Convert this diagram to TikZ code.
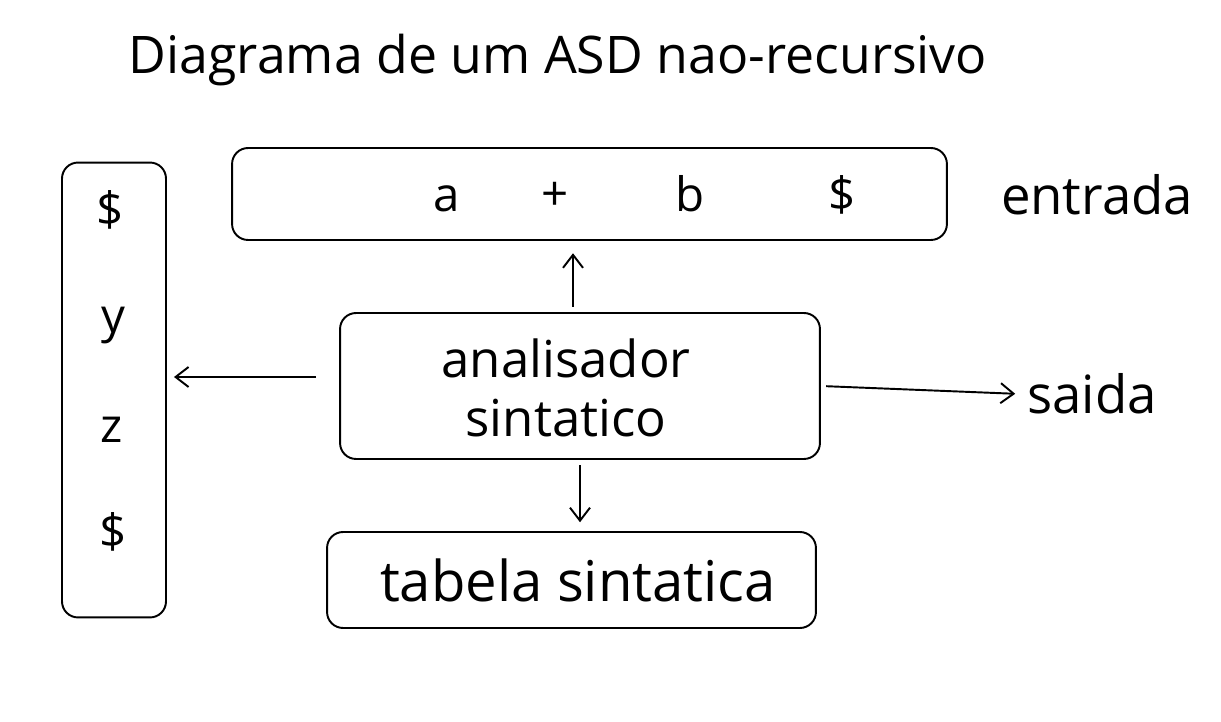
\documentclass[tikz,border=0pt]{standalone}
\usepackage{fontspec}
\setmainfont{Open Sans}
\usetikzlibrary{arrows.meta,positioning}

\begin{document}
\begin{tikzpicture}[x=0.02cm,y=-0.02cm,line width=1.1pt,
   >={Straight Barb[length=2.6mm,width=4mm]},
   box/.style={draw,rounded corners=0.32cm,inner sep=0pt,align=center,font=\fontsize{29}{34}\selectfont},
   lbl/.style={font=\fontsize{30}{34}\selectfont},
   sym/.style={font=\fontsize{27}{30}\selectfont}]
  \useasboundingbox (0,0) rectangle (1221,722);
  \node[font=\fontsize{29.5}{34}\selectfont] (title) at (558,60) {Diagrama de um ASD nao-recursivo};
  % pilha
  \node[box,minimum width=2.08cm,minimum height=9.1cm] (pilha) at (114,390) {};
  \node[sym] (p1) at (110,210) {\$};
  \node[sym] (p2) at (113,326) {y};
  \node[sym] (p3) at (112,430) {z};
  \node[sym] (p4) at (113,532) {\$};
  % entrada
  \node[box,minimum width=14.3cm,minimum height=1.84cm] (inp) at (589.5,194) {};
  \node[sym] (e1) at (447,199) {a};
  \node[sym] (e2) at (555,196) {+};
  \node[sym] (e3) at (690,194) {b};
  \node[sym] (e4) at (842,195) {\$};
  \node[lbl] (entrada) at (1097,195) {entrada};
  % analisador e tabela
  \node[box,minimum width=9.6cm,minimum height=2.92cm] (ana) at (580,386) {};
  \node[box,draw=none] (anatxt) at (566,388) {analisador\\sintatico};
  \node[box,draw=none,font=\fontsize{32}{36}\selectfont] (tabtxt) at (578,580) {tabela sintatica};
  \node[box,minimum width=9.78cm,minimum height=1.92cm] (tab) at (571.5,580) {};
  \node[lbl] (saida) at (1092,394) {saida};
  % setas
  \draw[->,shorten <=3pt,shorten >=7pt] ([xshift=-0.14cm]ana.north) -- ([xshift=-0.14cm]ana.north |- inp.south);
  \draw[->,shorten <=13pt,shorten >=4pt] ([yshift=0.18cm]ana.west) -- ([yshift=0.18cm]ana.west -| pilha.east);
  \draw[->,shorten <=3pt,shorten >=3pt] (ana.east) -- (saida.west);
  \draw[->,shorten <=3pt,shorten >=5pt] (ana.south) -- (ana.south |- tab.north);
\end{tikzpicture}
\end{document}
